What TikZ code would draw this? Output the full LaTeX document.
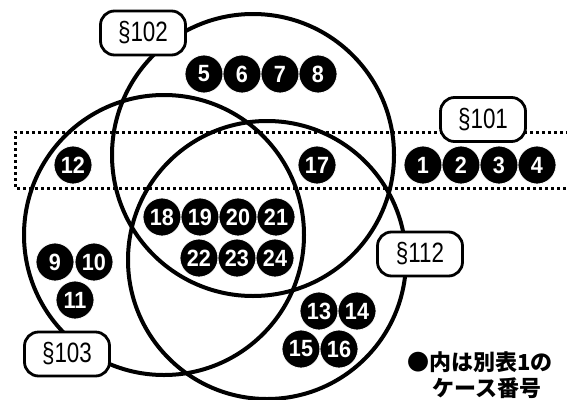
\documentclass[tikz,border=0pt]{standalone}
\usepackage{fontspec}
\setmainfont{Liberation Sans}
\newfontfamily\cjkfont{Noto Sans CJK JP}
\newcommand\narrowtxt[1]{\scalebox{0.8}[1]{#1}}
\newcommand\casetxt[1]{\scalebox{0.92}[1]{#1}}
\tikzset{
  venn/.style={draw=black, line width=4pt},
  zone/.style={draw=black, line width=3pt, dash pattern=on 3pt off 3pt},
  sect/.style={draw=black, line width=2.8pt, fill=white, rounded corners=14pt,
    minimum width=85pt, minimum height=44pt, inner sep=0pt,
    font=\fontsize{28}{28}\selectfont},
  case/.style={circle, fill=black, draw=white, line width=0.8pt, minimum size=38pt,
    inner sep=0pt, text=white, font=\bfseries\fontsize{23.5}{23.5}\selectfont},
  legend/.style={inner sep=0pt,
    font=\cjkfont\bfseries\fontsize{22}{26}\selectfont}
}
\begin{document}
\begin{tikzpicture}[x=1pt,y=-1pt]
\useasboundingbox (0,0) rectangle (567,399);
\clip (0,0) rectangle (567,399);
% Venn circles
\draw[venn] (253,155) circle[radius=141pt];
\draw[venn] (164,235) circle[radius=140pt];
\draw[venn] (267,260) circle[radius=139pt];
% dotted zone (section 101)
\draw[zone] (575,132) -- (15,132) -- (15,188) -- (575,188);
% labels
\node[sect] (s102) at (143,33) {\narrowtxt{§102}};
\node[sect] (s101) at (483,119.5) {\narrowtxt{§101}};
\node[sect] (s112) at (420,254) {\narrowtxt{§112}};
\node[sect] (s103) at (67,354) {\narrowtxt{§103}};
% cases
\node[case] (n1) at (423,165) {\casetxt{1}};
\node[case] (n2) at (461,165) {\casetxt{2}};
\node[case] (n3) at (499,165) {\casetxt{3}};
\node[case] (n4) at (537,165) {\casetxt{4}};
\node[case] (n5) at (204,74) {\casetxt{5}};
\node[case] (n6) at (242,74) {\casetxt{6}};
\node[case] (n7) at (280,74) {\casetxt{7}};
\node[case] (n8) at (318,74) {\casetxt{8}};
\node[case] (n9) at (55,262) {\casetxt{9}};
\node[case] (n10) at (94,262) {\casetxt{10}};
\node[case] (n11) at (75,300) {\casetxt{11}};
\node[case] (n12) at (73,165) {\casetxt{12}};
\node[case] (n13) at (319,311) {\casetxt{13}};
\node[case] (n14) at (357,311) {\casetxt{14}};
\node[case] (n15) at (301,349) {\casetxt{15}};
\node[case] (n16) at (339,349) {\casetxt{16}};
\node[case] (n17) at (317,165) {\casetxt{17}};
\node[case] (n18) at (162,217) {\casetxt{18}};
\node[case] (n19) at (200,217) {\casetxt{19}};
\node[case] (n20) at (238,217) {\casetxt{20}};
\node[case] (n21) at (276,217) {\casetxt{21}};
\node[case] (n22) at (199,258) {\casetxt{22}};
\node[case] (n23) at (237,258) {\casetxt{23}};
\node[case] (n24) at (275,258) {\casetxt{24}};
% legend
\node[legend] (leg1) at (480,362) {●内は別表1の};
\node[legend] (leg2) at (487,388) {ケース番号};
\end{tikzpicture}
\end{document}
